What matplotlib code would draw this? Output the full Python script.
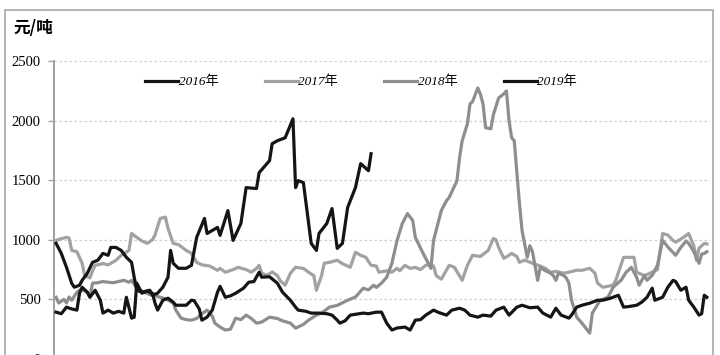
import matplotlib
matplotlib.use("Agg")
import matplotlib.pyplot as plt
from matplotlib.patches import Rectangle

# (trading day, 元/吨)
s2016 = [(0, 970), (2, 886), (4, 769), (6, 635), (7, 602), (9, 619), (10, 660), (12, 719),
         (14, 811), (16, 828), (18, 886), (20, 870), (21, 936), (23, 936), (25, 911), (27, 853),
         (29, 811), (30, 686), (31, 577), (33, 560), (36, 577), (37, 535), (39, 552), (41, 602),
         (43, 686), (44, 911), (45, 803), (47, 761), (50, 761), (52, 786), (54, 1020), (57, 1179),
         (58, 1053), (62, 1104), (63, 1037), (66, 1245), (68, 995), (71, 1137), (73, 1438),
         (77, 1430), (78, 1563), (81, 1639), (82, 1664), (83, 1806), (85, 1831), (88, 1856),
         (91, 2015), (92, 1438), (93, 1496), (95, 1480), (98, 970), (100, 911), (101, 1053),
         (104, 1137), (106, 1262), (108, 928), (110, 970), (112, 1271), (115, 1438), (117, 1639),
         (120, 1580), (121, 1722)]

s2017 = [(0, 995), (2, 1010), (4, 1020), (5, 1015), (6, 911), (8, 900), (10, 803), (11, 700),
         (13, 680), (14, 740), (15, 786), (18, 800), (20, 790), (23, 828), (25, 870), (28, 911),
         (29, 1053), (31, 1020), (33, 990), (35, 970), (37, 1000), (38, 1040), (40, 1179),
         (42, 1190), (43, 1095), (45, 970), (47, 960), (50, 911), (52, 886), (54, 811), (56, 790),
         (59, 780), (62, 744), (63, 760), (65, 728), (68, 750), (70, 769), (73, 750), (75, 728),
         (77, 760), (78, 786), (79, 720), (81, 702), (83, 730), (85, 700), (86, 660), (88, 619),
         (90, 719), (92, 769), (95, 760), (97, 728), (99, 700), (100, 577), (102, 700),
         (103, 803), (105, 811), (108, 828), (110, 800), (113, 769), (115, 895), (117, 870),
         (119, 853), (121, 786), (123, 780), (124, 728), (127, 740), (129, 728), (131, 761),
         (132, 740), (134, 786), (136, 760), (138, 769), (140, 750), (142, 786), (143, 790),
         (145, 780), (146, 700), (148, 670), (151, 786), (153, 770), (156, 660), (158, 786),
         (160, 870), (163, 860), (166, 911), (168, 1011), (169, 1000), (170, 936), (172, 845),
         (174, 870), (175, 886), (177, 860), (178, 811), (180, 830), (183, 803), (186, 780),
         (188, 760), (190, 728), (192, 735), (195, 720), (197, 728), (200, 745), (202, 744),
         (205, 761), (207, 720), (208, 636), (210, 602), (212, 610), (214, 620), (215, 660),
         (218, 853), (220, 853), (222, 853), (223, 728), (226, 700), (229, 728), (231, 750),
         (233, 1053), (235, 1040), (237, 995), (238, 980), (241, 1020), (243, 1053), (244, 1000),
         (245, 950), (246, 828), (247, 930), (249, 970), (250, 965)]

s2018 = [(0, 518), (1, 470), (3, 500), (4, 470), (5, 520), (6, 493), (8, 560), (9, 577),
         (10, 580), (12, 560), (13, 520), (14, 636), (16, 640), (18, 650), (20, 644), (22, 640),
         (24, 650), (26, 660), (28, 644), (29, 660), (31, 594), (32, 580), (34, 560), (36, 540),
         (38, 530), (40, 518), (42, 505), (43, 493), (45, 470), (46, 410), (48, 343), (50, 330),
         (52, 326), (54, 340), (56, 380), (58, 410), (60, 360), (61, 300), (63, 268), (65, 243),
         (67, 250), (69, 343), (71, 330), (73, 368), (75, 340), (77, 301), (79, 310), (82, 351),
         (85, 340), (87, 320), (90, 301), (92, 259), (95, 290), (97, 326), (100, 368), (102, 385),
         (105, 435), (108, 450), (112, 493), (115, 520), (118, 594), (120, 580), (122, 619),
         (123, 600), (125, 636), (127, 686), (129, 803), (131, 995), (133, 1137), (135, 1220),
         (137, 1162), (138, 1020), (140, 930), (141, 886), (143, 803), (144, 760), (145, 995),
         (147, 1162), (148, 1246), (150, 1329), (151, 1355), (154, 1496), (155, 1689),
         (156, 1831), (158, 1973), (159, 2140), (160, 2160), (162, 2274), (163, 2220),
         (164, 2140), (165, 1940), (167, 1931), (168, 2050), (170, 2190), (172, 2224),
         (173, 2249), (174, 2000), (175, 1856), (176, 1831), (178, 1304), (179, 1078), (181, 853),
         (182, 950), (183, 900), (185, 660), (186, 769), (188, 740), (190, 720), (191, 700),
         (192, 660), (193, 720), (195, 700), (196, 680), (197, 636), (198, 493), (200, 351),
         (202, 301), (205, 217), (206, 385), (209, 493), (212, 518), (214, 602), (217, 660),
         (219, 728), (221, 769), (223, 686), (224, 619), (226, 700), (227, 660), (229, 702),
         (231, 786), (233, 995), (235, 940), (238, 870), (240, 936), (242, 990), (243, 970),
         (245, 900), (247, 803), (248, 880), (249, 886), (250, 900)]

s2019 = [(0, 393), (2, 380), (4, 435), (6, 420), (8, 410), (9, 552), (10, 602), (12, 560),
         (13, 518), (15, 577), (17, 493), (18, 385), (20, 410), (22, 385), (24, 400), (26, 385),
         (27, 518), (29, 343), (30, 350), (31, 636), (33, 552), (35, 570), (37, 552), (38, 468),
         (39, 410), (41, 493), (43, 510), (45, 477), (46, 451), (50, 451), (52, 493), (53, 490),
         (55, 420), (56, 326), (58, 351), (60, 410), (62, 560), (63, 610), (65, 518), (67, 530),
         (69, 552), (72, 594), (74, 644), (76, 650), (78, 728), (79, 686), (82, 690), (85, 636),
         (87, 560), (90, 493), (92, 435), (93, 410), (96, 400), (98, 385), (101, 385), (104, 380),
         (106, 368), (108, 326), (109, 301), (111, 320), (113, 368), (115, 375), (118, 385),
         (120, 380), (123, 393), (125, 393), (127, 301), (129, 243), (131, 260), (134, 268),
         (136, 243), (138, 326), (140, 330), (142, 368), (145, 410), (147, 390), (150, 368),
         (152, 410), (155, 426), (157, 410), (159, 368), (162, 351), (164, 368), (167, 360),
         (169, 410), (172, 435), (174, 368), (177, 435), (179, 451), (182, 430), (185, 435),
         (187, 385), (190, 351), (192, 426), (194, 368), (197, 343), (198, 368), (200, 435),
         (202, 451), (205, 468), (208, 493), (210, 493), (213, 510), (216, 535), (218, 435),
         (220, 440), (223, 451), (225, 477), (227, 518), (229, 594), (230, 493), (233, 518),
         (235, 602), (237, 660), (238, 650), (240, 577), (242, 602), (243, 493), (245, 435),
         (247, 368), (248, 380), (249, 535), (250, 518)]

y_ticks = [0, 500, 1000, 1500, 2000, 2500]
series_names = ["2016年", "2017年", "2018年", "2019年"]

plt.rcParams['font.family'] = ['Liberation Serif', 'Noto Sans CJK SC']

fig = plt.figure(figsize=(7.2, 3.55), dpi=100)
ax = fig.add_axes([54 / 720, (355 - 359) / 355, 656 / 720, 298 / 355])

# outer frame of the chart
fig.patches.append(Rectangle((5 / 720, -0.05), 708 / 720, 1.05 - 10 / 355,
                             transform=fig.transFigure, fill=False,
                             edgecolor='#a8a8a8', linewidth=1.2))

lw = 2.3
styles = {
    "2016年": (s2016, '#151515', 3),
    "2017年": (s2017, '#a2a2a2', 2),
    "2018年": (s2018, '#8e8e8e', 2),
    "2019年": (s2019, '#151515', 3),
}
for name in ["2017年", "2018年", "2019年", "2016年"]:
    data, color, z = styles[name]
    days = [d for d, _ in data]
    vals = [v for _, v in data]
    ax.plot(days, vals, color=color, lw=lw, label=name, zorder=z)

ax.set_xlim(-0.8, 251.2)
ax.set_ylim(0, 2500)
ax.set_yticks(y_ticks)
ax.set_yticklabels([str(t) for t in y_ticks], fontsize=10.5)
ax.set_xticks([])
ax.tick_params(axis='y', length=4, width=1, color='#a0a0a0', pad=5.5)
ax.grid(axis='y', color='#cfcfcf', linestyle=(0, (2, 2)), linewidth=0.9)
for side in ['top', 'right', 'bottom']:
    ax.spines[side].set_visible(False)
ax.spines['left'].set_color('#a0a0a0')
ax.spines['left'].set_linewidth(1.4)

handles, labels = ax.get_legend_handles_labels()
order = [labels.index(n) for n in series_names]
ax.legend([handles[i] for i in order], [labels[i] for i in order],
          loc='center', bbox_to_anchor=(0.468, 0.93), ncol=4, frameon=False,
          handlelength=2.5, handletextpad=0.05, columnspacing=3.5,
          prop={'style': 'italic', 'size': 9.5})

fig.text(13 / 720, 1 - 28 / 355, "元/吨", fontsize=12, fontweight='bold',
         family=['Noto Sans CJK SC'], va='center', ha='left')

fig.savefig("out.png", dpi=100)
